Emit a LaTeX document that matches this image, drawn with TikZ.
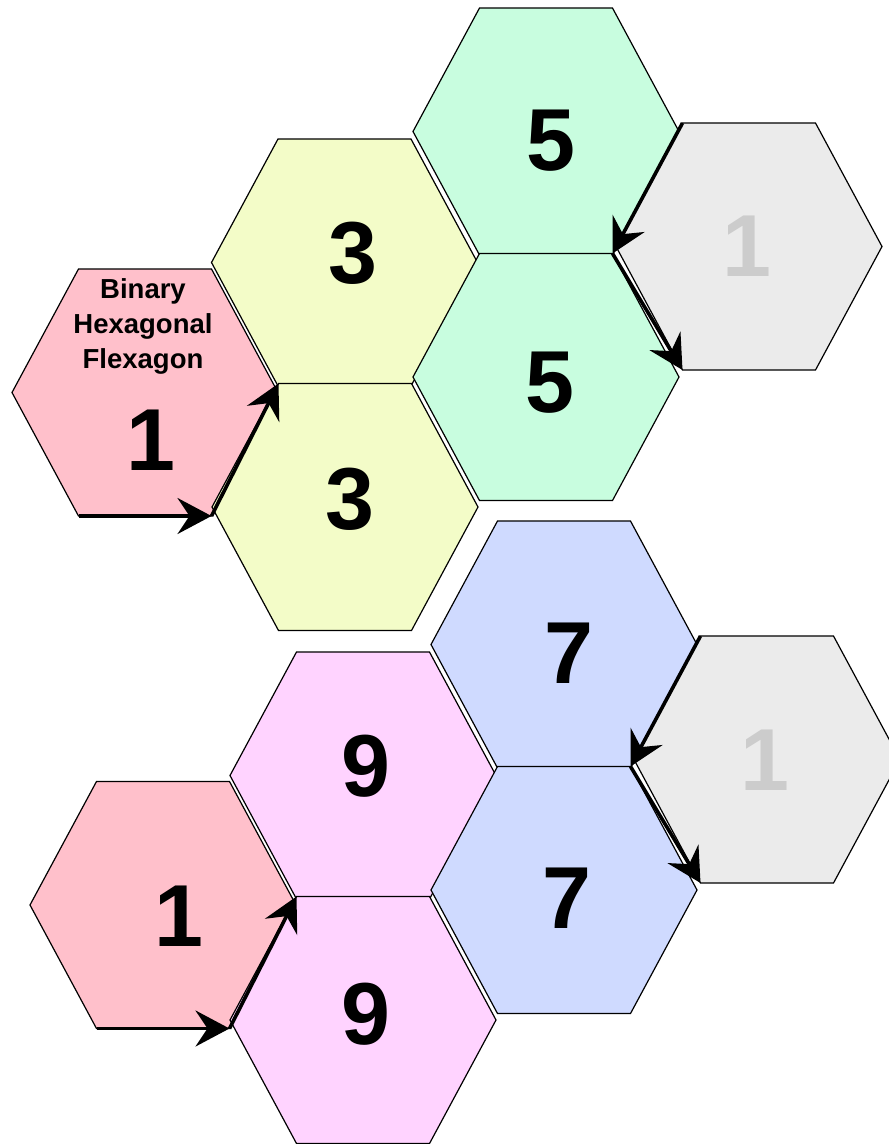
\documentclass[tikz,border=0pt]{standalone}
\usepackage{fontspec}
\setmainfont{Liberation Sans}
\usetikzlibrary{arrows.meta}
\definecolor{hpink}{HTML}{FFC0CB}
\definecolor{hyellow}{HTML}{F3FCC8}
\definecolor{hgreen}{HTML}{C8FDDF}
\definecolor{hgrey}{HTML}{EBEBEB}
\definecolor{hblue}{HTML}{CFDAFF}
\definecolor{hpurple}{HTML}{FFD3FF}
\definecolor{fadedigit}{HTML}{CCCCCC}
\tikzset{
  hexstyle/.style={draw=black, line width=1.2pt, line join=miter},
  digit/.style={inner sep=0pt, font=\fontsize{88}{88}\selectfont\bfseries},
  flexarrow/.style={line width=3.6pt, -{Stealth[length=34pt,width=36pt,inset=12pt]}},
  titletext/.style={inner sep=0pt, align=center, font=\fontsize{27.5}{35}\selectfont\bfseries}
}
\newcommand{\myhex}[4]{%
  \path[hexstyle, fill=#4]
    ({#2-133},{#3}) coordinate (#1-l)
    -- ({#2-66.5},{#3-123.5}) coordinate (#1-tl)
    -- ({#2+66.5},{#3-123.5}) coordinate (#1-tr)
    -- ({#2+133},{#3}) coordinate (#1-r)
    -- ({#2+66.5},{#3+123.5}) coordinate (#1-br)
    -- ({#2-66.5},{#3+123.5}) coordinate (#1-bl)
    -- cycle;}
\begin{document}
\begin{tikzpicture}[x=1pt,y=-1pt]
\useasboundingbox (0,0) rectangle (889,1144);
\begin{scope}
\clip (0,0) rectangle (889,1144);
% top group
\myhex{pT}{145}{392.5}{hpink}
\myhex{yT}{344.5}{262.5}{hyellow}
\myhex{yB}{345}{507}{hyellow}
\myhex{gT}{546}{131.5}{hgreen}
\myhex{gB}{546}{377}{hgreen}
\myhex{eT}{749}{246.5}{hgrey}
% bottom group
\myhex{pB}{163}{905}{hpink}
\myhex{uT}{363}{775.5}{hpurple}
\myhex{uB}{363}{1020}{hpurple}
\myhex{bT}{564}{644.5}{hblue}
\myhex{bB}{564}{890}{hblue}
\myhex{eB}{767}{759.5}{hgrey}
\end{scope}
% arrows
\draw[flexarrow] (pT-bl) -- (pT-br);
\draw[flexarrow] (pT-br) -- (yB-tl);
\draw[flexarrow] (eT-tl) -- (gB-tr);
\draw[flexarrow] (gB-tr) -- (eT-bl);
\draw[flexarrow] (pB-bl) -- (pB-br);
\draw[flexarrow] (pB-br) -- (uB-tl);
\draw[flexarrow] (eB-tl) -- (bB-tr);
\draw[flexarrow] (bB-tr) -- (eB-bl);
% labels
\node[titletext] (title) at (143,326) {Binary\\Hexagonal\\Flexagon};
\node[digit] (dpT) at (151,440) {1};
\node[digit] (dyT) at (353,253) {3};
\node[digit] (dyB) at (350,499) {3};
\node[digit] (dgT) at (551,141) {5};
\node[digit] (dgB) at (550,383) {5};
\node[digit, text=fadedigit] (deT) at (747,246) {1};
\node[digit] (dpB) at (179,916) {1};
\node[digit] (duT) at (366,766) {9};
\node[digit] (duB) at (366,1014) {9};
\node[digit] (dbT) at (569,653) {7};
\node[digit] (dbB) at (567,898) {7};
\node[digit, text=fadedigit] (deB) at (765,760) {1};
\end{tikzpicture}
\end{document}
